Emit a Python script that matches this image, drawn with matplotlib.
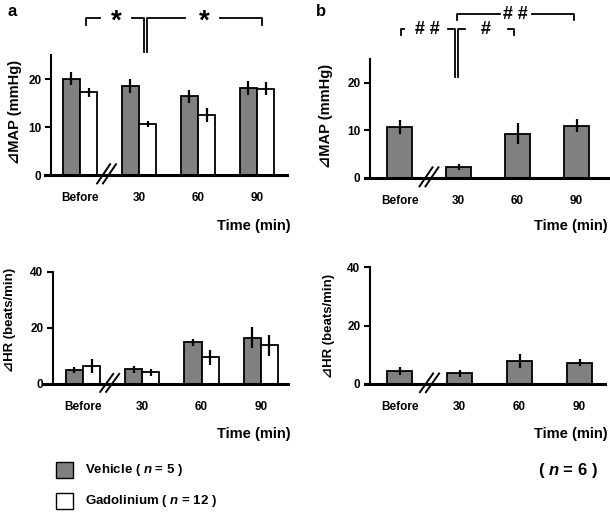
import numpy as np
import matplotlib.pyplot as plt
from matplotlib.patches import Rectangle
from matplotlib.transforms import blended_transform_factory

plt.rcParams['font.family'] = ['Liberation Sans', 'DejaVu Sans']
plt.rcParams['font.weight'] = 'bold'
plt.rcParams['axes.labelweight'] = 'bold'
plt.rcParams['mathtext.fontset'] = 'custom'
plt.rcParams['mathtext.it'] = 'Liberation Sans:italic:bold'
plt.rcParams['mathtext.rm'] = 'Liberation Sans:bold'

times = ["Before", "30", "60", "90"]

# panel a (vehicle vs gadolinium)
map_vehicle = [20.1, 18.5, 16.4, 18.1]
map_vehicle_err = [1.4, 1.4, 1.4, 1.4]
map_gad = [17.2, 10.7, 12.5, 18.0]
map_gad_err = [0.9, 0.6, 1.5, 1.4]
hr_vehicle = [5.0, 5.3, 14.9, 16.6]
hr_vehicle_err = [1.2, 1.2, 1.2, 3.8]
hr_gad = [6.5, 4.2, 9.5, 13.8]
hr_gad_err = [2.5, 1.3, 2.6, 3.7]

# panel b
map_b = [10.7, 2.3, 9.3, 11.0]
map_b_err = [1.5, 0.7, 2.2, 1.4]
hr_b = [4.5, 3.6, 7.9, 7.3]
hr_b_err = [1.3, 1.2, 2.3, 1.3]

W, H = 610, 512
fig = plt.figure(figsize=(W / 100, H / 100), dpi=100)
GREY = "#808080"


def make_ax(x_left, x_right, y_top, y_bot, center0, step, spine_x, ymax, ticks):
    ax = fig.add_axes([x_left / W, 1 - y_bot / H, (x_right - x_left) / W, (y_bot - y_top) / H])
    ax.set_xlim((x_left - center0) / step, (x_right - center0) / step)
    ax.set_ylim(0, ymax)
    ax.spines['top'].set_visible(False)
    ax.spines['right'].set_visible(False)
    ax.spines['left'].set_position(('data', (spine_x - center0) / step))
    ax.spines['left'].set_linewidth(1.5)
    ax.spines['bottom'].set_linewidth(2.2)
    ax.set_yticks(ticks)
    ax.tick_params(axis='y', direction='out', length=4, width=1.5, pad=3, labelsize=8.5)
    ax.set_xticks(range(len(times)))
    ax.set_xticklabels(times)
    ax.tick_params(axis='x', length=0, pad=12, labelsize=8.5)
    ax.patch.set_alpha(0)
    return ax


def bars(ax, x, vals, errs, color, width):
    ax.bar(x, vals, width=width, color=color, edgecolor="black", linewidth=1.3, zorder=2)
    ax.errorbar(x, vals, yerr=errs, fmt='none', ecolor="black", elinewidth=1.6, capsize=0, zorder=3)


def break_mark(ax, xc):
    tr = blended_transform_factory(ax.transData, ax.transAxes)
    for dx in (-0.05, 0.05):
        ax.plot([xc + dx - 0.11, xc + dx + 0.11], [-0.07, 0.09], color="black", lw=1.4,
                transform=tr, clip_on=False, zorder=4)


x = np.arange(len(times))

# ---- panel a, MAP
ax1 = make_ax(45, 287, 55, 175, 80, 59, 51, 25, [0, 10, 20])
w = 0.29
bars(ax1, x - w / 2, map_vehicle, map_vehicle_err, GREY, w)
bars(ax1, x + w / 2, map_gad, map_gad_err, "white", w)
ax1.set_ylabel("⊿MAP (mmHg)", fontsize=10.5)
ax1.yaxis.set_label_coords(-0.095, 0.525)
break_mark(ax1, 0.45)

# ---- panel a, HR
ax2 = make_ax(43, 288, 272, 384, 83, 59.3, 53, 40, [0, 20, 40])
bars(ax2, x - w / 2, hr_vehicle, hr_vehicle_err, GREY, w)
bars(ax2, x + w / 2, hr_gad, hr_gad_err, "white", w)
ax2.set_ylabel("⊿HR (beats/min)", fontsize=9.5)
ax2.yaxis.set_label_coords(-0.11, 0.57)
break_mark(ax2, 0.45)

# ---- panel b, MAP
ax3 = make_ax(365, 608, 59, 178, 399.5, 59, 370, 25, [0, 10, 20])
wb = 0.42
bars(ax3, x, map_b, map_b_err, GREY, wb)
ax3.set_ylabel("⊿MAP (mmHg)", fontsize=10.5)
ax3.yaxis.set_label_coords(-0.132, 0.52)
break_mark(ax3, 0.5)

# ---- panel b, HR
ax4 = make_ax(365, 605, 267, 384, 399.5, 60, 370, 40, [0, 20, 40])
bars(ax4, x, hr_b, hr_b_err, GREY, wb)
ax4.set_ylabel("⊿HR (beats/min)", fontsize=9.5)
ax4.yaxis.set_label_coords(-0.125, 0.5)
break_mark(ax4, 0.5)

# axis titles under each panel
for xr, yc in ((291, 226), (291, 434), (608, 226), (608, 434)):
    fig.text(xr / W, 1 - yc / H, "Time (min)", ha='right', va='center', fontsize=10.5)

# ---- significance brackets, panel a
tr1 = blended_transform_factory(ax1.transData, ax1.transAxes)
kw = dict(color="black", lw=1.3, transform=tr1, clip_on=False)
yb, yt = 1.308, 1.25
ax1.plot([0.10, 0.10, 0.34], [yt, yb, yb], **kw)
ax1.plot([0.88, 1.085, 1.085], [yb, yb, 1.025], **kw)
ax1.plot([1.136, 1.136, 1.78], [1.025, yb, yb], **kw)
ax1.plot([2.37, 3.08, 3.08], [yb, yb, yt], **kw)
ax1.text(0.62, yb - 0.03, "*", transform=tr1, ha='center', va='center', fontsize=20)
ax1.text(2.10, yb - 0.03, "*", transform=tr1, ha='center', va='center', fontsize=20)

# ---- significance brackets, panel b
tr3 = blended_transform_factory(ax3.transData, ax3.transAxes)
kw = dict(color="black", lw=1.3, transform=tr3, clip_on=False)
yl, ylt = 1.252, 1.202
yu, yut = 1.378, 1.328
ax3.plot([0.025, 0.025, 0.08], [ylt, yl, yl], **kw)
ax3.plot([0.82, 0.94, 0.94], [yl, yl, 0.849], **kw)
ax3.plot([0.99, 0.99, 1.11], [0.849, yl, yl], **kw)
ax3.plot([1.84, 1.94, 1.94], [yl, yl, ylt], **kw)
ax3.plot([0.97, 0.97, 1.70], [yut, yu, yu], **kw)
ax3.plot([2.24, 2.96, 2.96], [yu, yu, yut], **kw)
ax3.text(0.48, yl, "# #", transform=tr3, ha='center', va='center', fontsize=13)
ax3.text(1.46, yl, "#", transform=tr3, ha='center', va='center', fontsize=13)
ax3.text(1.96, yu, "# #", transform=tr3, ha='center', va='center', fontsize=13)

# ---- panel letters
fig.text(8 / W, 1 - 11 / H, "a", fontsize=12, va='center')
fig.text(316 / W, 1 - 11 / H, "b", fontsize=12, va='center')

# ---- legend
fig.patches.append(Rectangle((56 / W, 1 - 478 / H), 17 / W, 16 / H, transform=fig.transFigure,
                             facecolor=GREY, edgecolor="black", lw=1.0))
fig.patches.append(Rectangle((56 / W, 1 - 509 / H), 17 / W, 16 / H, transform=fig.transFigure,
                             facecolor="white", edgecolor="black", lw=1.0))
fig.text(85 / W, 1 - 470 / H, "Vehicle ( $n$ = 5 )", fontsize=9.5, va='center')
fig.text(85 / W, 1 - 501 / H, "Gadolinium ( $n$ = 12 )", fontsize=9.5, va='center')
fig.text(568 / W, 1 - 470 / H, "( $n$ = 6 )", fontsize=12, va='center', ha='center')

fig.savefig("out.png", dpi=100)
